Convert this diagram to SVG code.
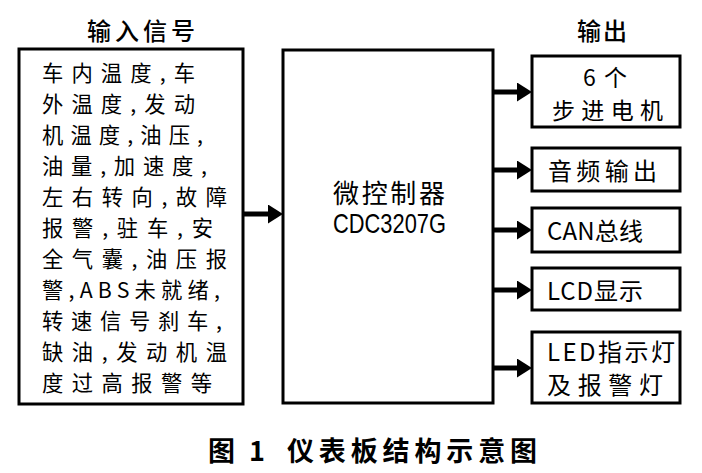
<svg xmlns="http://www.w3.org/2000/svg" width="702" height="473" viewBox="0 0 702 473">
<defs>
<style>
.box{fill:#fff;stroke:#000;stroke-width:3}
.t{font-family:"Noto Sans CJK SC","Liberation Sans",sans-serif;font-size:24px;fill:#000}
.s{font-family:"Noto Sans CJK SC","Liberation Sans",sans-serif;font-size:21.3px;fill:#000}
.h{font-family:"Noto Sans CJK SC","Liberation Sans",sans-serif;font-size:24px;font-weight:500;fill:#000}
.cap{font-family:"Noto Sans CJK SC","Liberation Serif",serif;font-size:27px;font-weight:bold;fill:#000}
.lat{font-family:"Liberation Sans",sans-serif;font-size:28px;fill:#000}
.conn{stroke:#000;stroke-width:5;fill:none}
</style>
<marker id="ah" markerUnits="userSpaceOnUse" markerWidth="15" markerHeight="19" refX="3" refY="9.5" orient="auto">
<path d="M0,0 L15,9.5 L0,19 z" fill="#000"/>
</marker>
</defs>
<rect width="702" height="473" fill="#fff"/>

<text class="h" x="87" y="40" textLength="108">输入信号</text>
<text class="h" x="577" y="40" textLength="50">输出</text>

<g id="inputs">
<rect class="box" x="19" y="49" width="224" height="355"/>
<text class="s" x="42" y="81" textLength="153">车内温度,车</text>
<text class="s" x="42" y="112" textLength="153">外温度,发动</text>
<text class="s" x="42" y="143" textLength="161">机温度,油压,</text>
<text class="s" x="42" y="174" textLength="165">油量,加速度,</text>
<text class="s" x="42" y="205" textLength="185">左右转向,故障</text>
<text class="s" x="42" y="236" textLength="171">报警,驻车,安</text>
<text class="s" x="42" y="267" textLength="185">全气囊,油压报</text>
<text class="s" x="42" y="298" textLength="178">警,ABS未就绪,</text>
<text class="s" x="42" y="329" textLength="180">转速信号刹车,</text>
<text class="s" x="42" y="360" textLength="185">缺油,发动机温</text>
<text class="s" x="42" y="391" textLength="170">度过高报警等</text>
</g>

<g id="mcu">
<rect class="box" x="283" y="50" width="210" height="353"/>
<text class="t" x="333" y="203" textLength="112" style="font-size:26px">微控制器</text>
<text class="lat" x="333" y="233" textLength="113" lengthAdjust="spacingAndGlyphs">CDC3207G</text>
</g>

<g id="out1">
<rect class="box" x="532" y="56" width="148" height="71"/>
<text class="t" x="583" y="86" textLength="44" style="font-size:23px">6个</text>
<text class="t" x="552" y="119" textLength="111" style="font-size:23px">步进电机</text>
</g>
<g id="out2">
<rect class="box" x="532" y="148" width="148" height="43"/>
<text class="t" x="548" y="180" textLength="109">音频输出</text>
</g>
<g id="out3">
<rect class="box" x="532" y="208" width="148" height="44"/>
<text class="t" x="547" y="240" textLength="96">CAN总线</text>
</g>
<g id="out4">
<rect class="box" x="532" y="268" width="148" height="42"/>
<text class="t" x="547" y="300" textLength="96">LCD显示</text>
</g>
<g id="out5">
<rect class="box" x="532" y="332" width="148" height="71"/>
<text class="t" x="547" y="361" textLength="128">LED指示灯</text>
<text class="t" x="547" y="394" textLength="116">及报警灯</text>
</g>

<g id="connectors">
<line class="conn" x1="243" y1="214" x2="271" y2="214" marker-end="url(#ah)"/>
<line class="conn" x1="493" y1="92" x2="520" y2="92" marker-end="url(#ah)"/>
<line class="conn" x1="493" y1="170" x2="520" y2="170" marker-end="url(#ah)"/>
<line class="conn" x1="493" y1="230" x2="520" y2="230" marker-end="url(#ah)"/>
<line class="conn" x1="493" y1="290" x2="520" y2="290" marker-end="url(#ah)"/>
<line class="conn" x1="493" y1="368" x2="520" y2="368" marker-end="url(#ah)"/>
</g>

<text class="cap" y="461"><tspan x="208">图</tspan><tspan x="249">1</tspan><tspan x="287" textLength="250">仪表板结构示意图</tspan></text>
</svg>
